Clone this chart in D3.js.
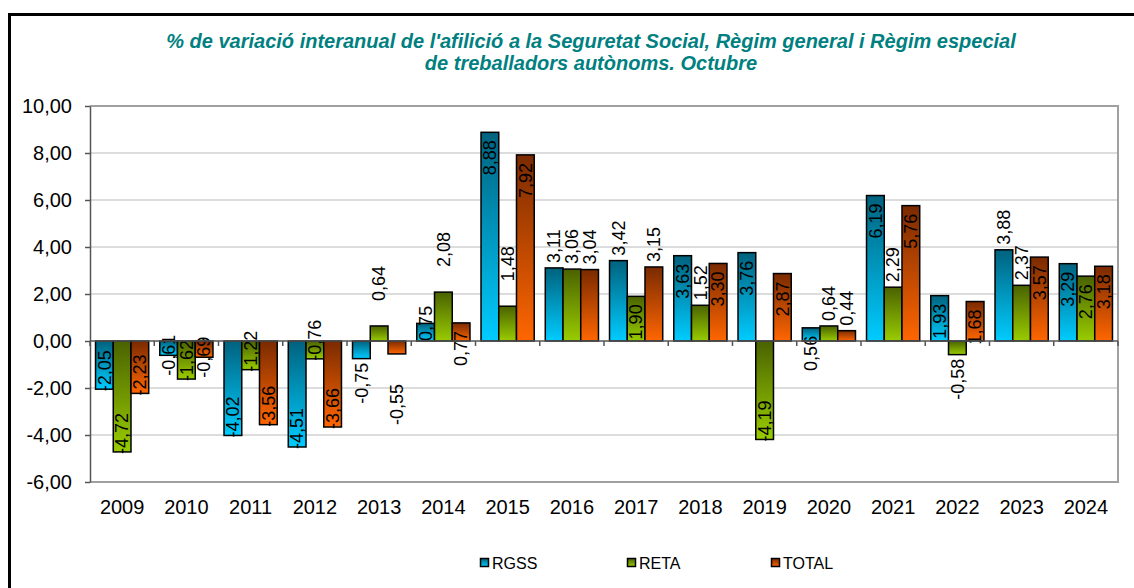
<!DOCTYPE html>
<html>
<head>
<meta charset="utf-8">
<script src="https://cdn.jsdelivr.net/npm/d3@7"></script>
<style>
  body { margin: 0; background: #fff; }
  svg { display: block; font-family: "Liberation Sans", Arial, sans-serif; }
</style>
</head>
<body>
<div id="chart"></div>
<script>
// data
const years = ["2009", "2010", "2011", "2012", "2013", "2014", "2015", "2016",
               "2017", "2018", "2019", "2020", "2021", "2022", "2023", "2024"];
const seriesNames = ["RGSS", "RETA", "TOTAL"];
const rgss  = [-2.05, -0.61, -4.02, -4.51, -0.75, 0.75, 8.88, 3.11, 3.42, 3.63, 3.76, 0.56, 6.19, 1.93, 3.88, 3.29];
const reta  = [-4.72, -1.62, -1.22, -0.76, 0.64, 2.08, 1.48, 3.06, 1.90, 1.52, -4.19, 0.64, 2.29, -0.58, 2.37, 2.76];
const total = [-2.23, -0.69, -3.56, -3.66, -0.55, 0.77, 7.92, 3.04, 3.15, 3.30, 2.87, 0.44, 5.76, 1.68, 3.57, 3.18];
const yTicks = [-6, -4, -2, 0, 2, 4, 6, 8, 10];

// where each data label sits relative to its bar (in / out / edge / far)
const labelModes = {
  RGSS:  ["in", "edge", "in", "in", "out", "edge", "in", "out", "out", "in", "in", "in", "in", "in", "out", "in"],
  RETA:  ["in", "in", "in", "in", "far", "far", "far", "out", "in", "out", "in", "out", "out", "out", "out", "in"],
  TOTAL: ["in", "edge", "in", "in", "far", "in", "in", "out", "out", "in", "in", "out", "in", "in", "in", "in"]
};

const width = 1134, height = 588;
const margin = { top: 106, right: 16, bottom: 106, left: 90 };
const innerW = width - margin.left - margin.right;
const innerH = height - margin.top - margin.bottom;

const svg = d3.select("#chart").append("svg")
    .attr("width", width)
    .attr("height", height);

// gradients: dark at top, bright at bottom
const colours = {
  RGSS:  ["#00627e", "#00ccff"],
  RETA:  ["#4a6200", "#99cc00"],
  TOTAL: ["#7a2a00", "#ff6600"]
};
const defs = svg.append("defs");
seriesNames.forEach(function (s) {
  const g = defs.append("linearGradient")
      .attr("id", "grad-" + s)
      .attr("x1", 0).attr("y1", 0).attr("x2", 0).attr("y2", 1);
  g.append("stop").attr("offset", "0%").attr("stop-color", colours[s][0]);
  g.append("stop").attr("offset", "100%").attr("stop-color", colours[s][1]);
});

// outer frame (runs past the right and bottom edges like the original)
svg.append("rect")
    .attr("x", 9.5).attr("y", 14.5)
    .attr("width", 1140).attr("height", 600)
    .attr("fill", "none")
    .attr("stroke", "#000")
    .attr("stroke-width", 3);

// title
const title = svg.append("text")
    .attr("text-anchor", "middle")
    .attr("font-size", 20)
    .attr("font-weight", "bold")
    .attr("font-style", "italic")
    .attr("fill", "#008080");
title.append("tspan").attr("x", 591).attr("y", 48)
    .text("% de variació interanual de l'afilició a la Seguretat Social, Règim general i Règim especial");
title.append("tspan").attr("x", 591).attr("y", 70)
    .text("de treballadors autònoms. Octubre");

const g = svg.append("g").attr("transform", `translate(${margin.left},${margin.top})`);

const x0 = d3.scaleBand().domain(years).range([0, innerW])
    .paddingInner(0.172).paddingOuter(0.086);
const x1 = d3.scaleBand().domain(seriesNames).range([0, x0.bandwidth()]).padding(0);
const y = d3.scaleLinear().domain([-6, 10]).range([innerH, 0]);

// gridlines
g.append("g")
  .selectAll("line")
  .data(yTicks.filter(d => d !== 0 && d !== -6 && d !== 10))
  .join("line")
    .attr("x1", 0).attr("x2", innerW)
    .attr("y1", d => y(d)).attr("y2", d => y(d))
    .attr("stroke", "#d0d0d0")
    .attr("stroke-width", 1.5);

// plot area border (top, right, bottom)
g.append("path")
    .attr("d", `M0,${y(10)}H${innerW}V${y(-6)}H0`)
    .attr("fill", "none")
    .attr("stroke", "#a0a0a0")
    .attr("stroke-width", 2);

// y axis, numbers with a comma and a plain hyphen for minus
const fmt = d => d3.format(".2f")(d).replace(".", ",").replace("\u2212", "-");
const yAxis = g.append("g")
    .call(d3.axisLeft(y).tickValues(yTicks).tickSize(5).tickSizeOuter(0).tickFormat(fmt));
yAxis.select(".domain").attr("stroke", "#555").attr("stroke-width", 1.5);
yAxis.selectAll(".tick line").attr("stroke", "#555").attr("stroke-width", 1.5);
yAxis.selectAll("text")
    .attr("x", -18)
    .attr("font-size", 20)
    .attr("font-family", "Liberation Sans, Arial, sans-serif")
    .attr("fill", "#000");

// bars
const rows = years.map(function (yr, i) {
  return { year: yr, values: [
    { s: "RGSS", v: rgss[i], i: i },
    { s: "RETA", v: reta[i], i: i },
    { s: "TOTAL", v: total[i], i: i }
  ]};
});

const groups = g.append("g").selectAll("g")
  .data(rows)
  .join("g")
    .attr("transform", d => `translate(${x0(d.year)},0)`);

groups.selectAll("rect")
  .data(d => d.values)
  .join("rect")
    .attr("x", d => x1(d.s))
    .attr("y", d => y(Math.max(0, d.v)))
    .attr("width", x1.bandwidth())
    .attr("height", d => Math.abs(y(d.v) - y(0)))
    .attr("fill", d => `url(#grad-${d.s})`)
    .attr("stroke", "#000")
    .attr("stroke-width", 1.5);

// x axis at zero with category ticks
const xAxisLine = g.append("g");
xAxisLine.append("line")
    .attr("x1", 0).attr("x2", innerW)
    .attr("y1", y(0)).attr("y2", y(0))
    .attr("stroke", "#555").attr("stroke-width", 1.5);
xAxisLine.selectAll(".cat-tick")
  .data(years.concat(["end"]))
  .join("line")
    .attr("class", "cat-tick")
    .attr("x1", (d, i) => i * x0.step())
    .attr("x2", (d, i) => i * x0.step())
    .attr("y1", y(0)).attr("y2", y(0) + 5)
    .attr("stroke", "#555").attr("stroke-width", 1.5);

// year labels
g.append("g").selectAll("text")
  .data(years)
  .join("text")
    .attr("x", d => x0(d) + x0.bandwidth() / 2)
    .attr("y", innerH + 32)
    .attr("text-anchor", "middle")
    .attr("font-size", 20)
    .text(d => d);

// data labels, rotated
function labelPlace(d) {
  const mode = labelModes[d.s][d.i];
  const end = y(d.v);
  if (mode === "edge") return { y: end, anchor: "middle" };
  if (d.v >= 0) {
    if (mode === "in") return { y: end + 8, anchor: "end" };
    if (mode === "out") return { y: end - 5, anchor: "start" };
    return { y: end - 25, anchor: "start" };
  } else {
    if (mode === "in") return { y: end + 2, anchor: "start" };
    if (mode === "out") return { y: end + 4, anchor: "end" };
    return { y: end + 30, anchor: "end" };
  }
}

groups.selectAll("text.lbl")
  .data(d => d.values)
  .join("text")
    .attr("class", "lbl")
    .attr("transform", function (d) {
      const p = labelPlace(d);
      return `translate(${x1(d.s) + x1.bandwidth() / 2},${p.y}) rotate(-90)`;
    })
    .attr("text-anchor", d => labelPlace(d).anchor)
    .attr("dy", "0.35em")
    .attr("font-size", 18)
    .attr("fill", "#000")
    .text(d => fmt(d.v));

// legend
const legendX = [480, 627, 771];
const legend = svg.append("g").selectAll("g")
  .data(seriesNames)
  .join("g")
    .attr("transform", (d, i) => `translate(${legendX[i]},563)`);
legend.append("rect")
    .attr("x", 0.5).attr("y", -4.5)
    .attr("width", 8).attr("height", 8)
    .attr("fill", d => `url(#grad-${d})`)
    .attr("stroke", "#000")
    .attr("stroke-width", 1.5);
legend.append("text")
    .attr("x", 12)
    .attr("y", 6)
    .attr("font-size", 16)
    .text(d => d);
</script>
</body>
</html>
